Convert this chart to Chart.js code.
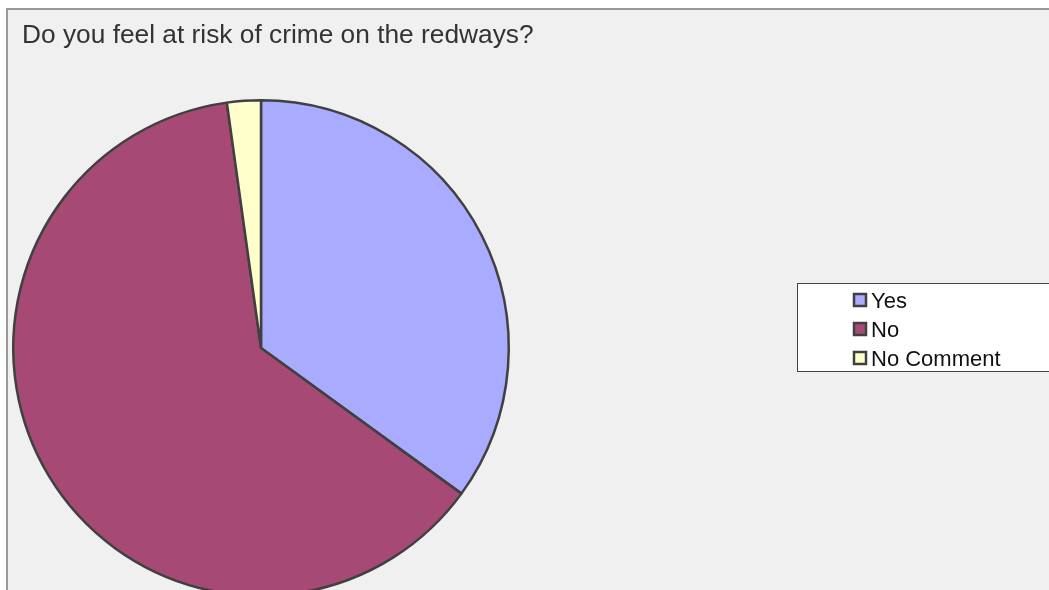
<!DOCTYPE html>
<html>
<head>
<meta charset="utf-8">
<script src="https://cdn.jsdelivr.net/npm/chart.js@4/dist/chart.umd.min.js"></script>
<style>
  html, body { margin: 0; padding: 0; background: #fff; overflow: hidden; }
  #wrap { width: 1049px; height: 620px; }
</style>
</head>
<body>
<div id="wrap"><canvas id="pieChart" width="1049" height="620"></canvas></div>
<script>
// chart data
const titleText = 'Do you feel at risk of crime on the redways?';
const labels = ['Yes', 'No', 'No Comment'];
const values = [35, 62.8, 2.2];
const colors = ['#a9abff', '#a64a75', '#ffffcc'];

// grey panel + title + boxed legend, drawn like the original spreadsheet chart
const framePlugin = {
  id: 'frame',
  beforeDraw(chart) {
    const c = chart.ctx;
    c.save();
    c.fillStyle = '#f0f0f0';
    c.fillRect(7, 9, 1100, 700);
    c.strokeStyle = '#999999';
    c.lineWidth = 2;
    c.strokeRect(7, 9, 1100, 700);
    c.fillStyle = '#333333';
    c.font = '26.3px "Liberation Sans", Arial, sans-serif';
    c.textBaseline = 'alphabetic';
    c.fillText(titleText, 22, 43);
    c.restore();
  },
  afterDraw(chart) {
    const c = chart.ctx;
    c.save();
    c.fillStyle = '#ffffff';
    c.fillRect(797.5, 283.5, 400, 88);
    c.strokeStyle = '#444444';
    c.lineWidth = 1;
    c.strokeRect(797.5, 283.5, 400, 88);
    c.font = '22px "Liberation Sans", Arial, sans-serif';
    chart.data.labels.forEach((lab, i) => {
      const y = 294 + i * 29;
      c.fillStyle = chart.data.datasets[0].backgroundColor[i];
      c.fillRect(854, y, 12, 12);
      c.strokeStyle = '#404040';
      c.lineWidth = 2.5;
      c.strokeRect(854, y, 12, 12);
      c.fillStyle = '#111111';
      c.fillText(lab, 871, y + 14);
    });
    c.restore();
  }
};

new Chart(document.getElementById('pieChart'), {
  type: 'pie',
  data: {
    labels: labels,
    datasets: [{
      data: values,
      backgroundColor: colors,
      borderColor: '#404040',
      borderWidth: 2.5
    }]
  },
  options: {
    responsive: false,
    animation: false,
    devicePixelRatio: 1,
    layout: { padding: { left: 12, top: 99, right: 539, bottom: 23 } },
    plugins: {
      legend: { display: false },
      title: { display: false },
      tooltip: { enabled: false }
    }
  },
  plugins: [framePlugin]
});
</script>
</body>
</html>
